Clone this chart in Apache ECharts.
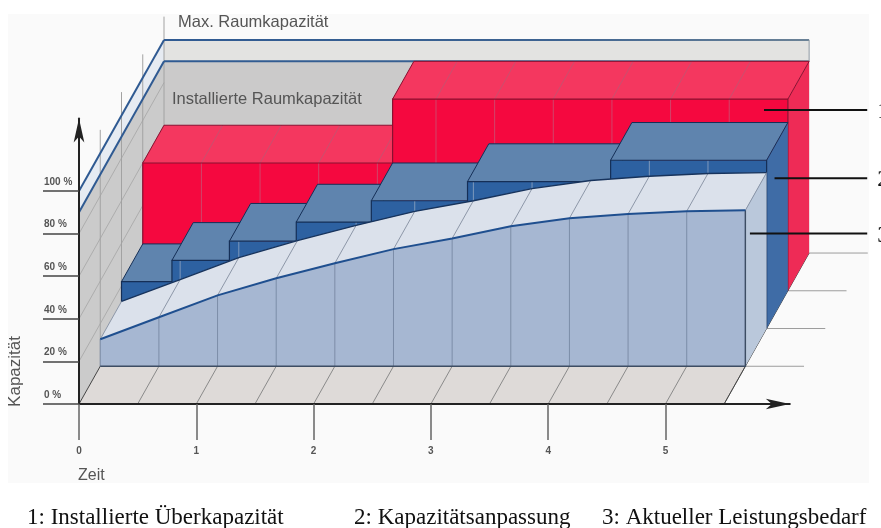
<!DOCTYPE html>
<html>
<head>
<meta charset="utf-8">
<title>Kapazität</title>
<script src="https://cdn.jsdelivr.net/npm/echarts@6/dist/echarts.min.js"></script>
<style>
  html, body { margin: 0; padding: 0; background: #fff; }
  #chart { width: 881px; height: 528px; }
</style>
</head>
<body>
<div id="chart"></div>
<script>
const timeTicks = [0, 1, 2, 3, 4, 5];
const capacityTicks = [0, 20, 40, 60, 80, 100];
const wallLines = [20, 40, 60, 80];
const halfSteps = [0, 0.5, 1, 1.5, 2, 2.5, 3, 3.5, 4, 4.5, 5, 5.5];
const depthPlanes = [1, 2, 3, 4];

const timeEnd = 5.5;
const maxCapacity = 100;
const installedCapacity = 90;
const depthLineTop = 111;

// 1: installierte Kapazitaet (Stufen)
const installedFrom = [0, 2.13];
const installedTo = [2.13, 5.5];
const installedLevel = [60, 90];

// 2: Kapazitaetsanpassung (Stufen)
const adaptFrom = [0, 0.43, 0.92, 1.49, 2.13, 2.95, 4.17];
const adaptTo = [0.43, 0.92, 1.49, 2.13, 2.95, 4.17, 5.5];
const adaptLevel = [22, 32, 41, 50, 60, 69, 79];

// 3: aktueller Leistungsbedarf
const demandValues = [12.7, 23, 33.3, 41.3, 48.4, 55, 60, 65.7, 69.5, 71.5, 72.8, 73.2];

const leaderNames = ['1', '2', '3'];
const leaderFrom = [5.84, 5.93, 5.72];
const leaderLevel = [138, 106, 80];
const leaderTo = 6.72;

// schraege Projektion: eine Tiefenebene in Achseneinheiten
const depthX = 0.1812;
const depthV = 17.72;

function pt(api, x, v, d) {
  return api.coord([x + d * depthX, v + d * depthV]);
}
function poly(pts, fill, stroke, w) {
  return { type: 'polygon', shape: { points: pts }, style: { fill: fill, stroke: stroke || 'none', lineWidth: w || 0 } };
}
function seg(pts, stroke, w) {
  return { type: 'polyline', shape: { points: pts }, style: { fill: 'none', stroke: stroke, lineWidth: w } };
}

function renderRoom(params, api) {
  const c = [];
  const p = (x, v, d) => pt(api, x, v, d);
  // Boden
  c.push(poly([p(0, 0, 0), p(timeEnd, 0, 0), p(timeEnd, 0, 4), p(0, 0, 4)], '#dedad8'));
  halfSteps.slice(1).forEach(x => c.push(seg([p(x, 0, 0), p(x, 0, 1)], '#8a8a8a', 1)));
  // Waende
  c.push(poly([p(0, 0, 0), p(0, 0, 4), p(0, installedCapacity, 4), p(0, installedCapacity, 0)], '#cbcbcb'));
  c.push(poly([p(0, installedCapacity, 0), p(0, installedCapacity, 4), p(0, maxCapacity, 4), p(0, maxCapacity, 0)], '#e6ebf2'));
  c.push(poly([p(0, 0, 4), p(timeEnd, 0, 4), p(timeEnd, installedCapacity, 4), p(0, installedCapacity, 4)], '#cbcaca'));
  c.push(poly([p(0, installedCapacity, 4), p(timeEnd, installedCapacity, 4), p(timeEnd, maxCapacity, 4), p(0, maxCapacity, 4)], '#e3e3e1'));
  wallLines.forEach(v => c.push(seg([p(0, v, 0), p(0, v, 4)], '#adadad', 1)));
  depthPlanes.forEach(d => {
    c.push(seg([p(0, 0, d), p(0, depthLineTop, d)], '#a2a2a2', 1));
    c.push(seg([p(timeEnd, 0, d), p(timeEnd + 0.5, 0, d)], '#9c9c9c', 1));
  });
  c.push(seg([p(0, 0, 0), p(0, 0, 2)], '#444', 1));
  c.push(seg([p(timeEnd, 0, 0), p(timeEnd, 0, 4)], '#444', 1));
  // Linien Max. und Installierte Raumkapazitaet
  const fade = new echarts.graphic.LinearGradient(0, 0, 1, 0, [
    { offset: 0, color: '#2f5a92' }, { offset: 0.6, color: '#3d6391' }, { offset: 1, color: '#6b8296' }
  ]);
  [maxCapacity, installedCapacity].forEach(v => {
    c.push(seg([p(0, v, 0), p(0, v, 4)], '#2f5a92', 2));
    c.push(seg([p(0, v, 4), p(timeEnd, v, 4)], fade, 2));
  });
  c.push(seg([p(timeEnd, maxCapacity, 4), p(timeEnd, installedCapacity, 4)], '#8f9aa3', 1));
  return { type: 'group', children: c };
}

function renderBox(cols, depth) {
  return function (params, api) {
    const x0 = api.value(0), x1 = api.value(1), v = api.value(2);
    const p = (x, val, d) => pt(api, x, val, d);
    const c = [];
    c.push(poly([p(x0, 0, depth), p(x1, 0, depth), p(x1, v, depth), p(x0, v, depth)], cols.front));
    c.push(poly([p(x1, 0, depth), p(x1, 0, depth + 1), p(x1, v, depth + 1), p(x1, v, depth)], cols.side));
    c.push(poly([p(x0, v, depth), p(x1, v, depth), p(x1, v, depth + 1), p(x0, v, depth + 1)], cols.top));
    halfSteps.forEach(x => {
      if (x > x0 + 0.02 && x < x1 - 0.02) {
        c.push(seg([p(x, 0, depth), p(x, v, depth)], cols.grid, 1));
        if (cols.topGrid) c.push(seg([p(x, v, depth), p(x, v, depth + 1)], cols.topGrid, 1));
      }
    });
    c.push(seg([p(x0, 0, depth), p(x0, v, depth), p(x1, v, depth), p(x1, 0, depth)], cols.edge, 1.2));
    c.push(seg([p(x0, v, depth), p(x0, v, depth + 1), p(x1, v, depth + 1), p(x1, v, depth)], cols.edge, 1));
    return { type: 'group', children: c };
  };
}

function renderDemand(params, api) {
  const p = (x, val, d) => pt(api, x, val, d);
  const front = halfSteps.map((x, i) => p(x, demandValues[i], 1));
  const back = halfSteps.map((x, i) => p(x, demandValues[i], 2));
  const last = demandValues[demandValues.length - 1];
  const c = [];
  c.push(poly([p(0, 0, 1)].concat(front, [p(timeEnd, 0, 1)]), '#a6b7d2'));
  c.push(poly(front.concat(back.slice().reverse()), '#dbe1eb'));
  c.push(poly([p(timeEnd, 0, 1), p(timeEnd, 0, 2), p(timeEnd, last, 2), p(timeEnd, last, 1)], '#bac8db'));
  halfSteps.forEach((x, i) => {
    c.push(seg([p(x, 0, 1), front[i]], '#7c8da8', 1));
    c.push(seg([front[i], back[i]], '#8d97a8', 1));
  });
  c.push(seg([p(0, 0, 1), p(timeEnd, 0, 1), p(timeEnd, last, 1)], '#3d4d63', 1.4));
  c.push(seg(front, '#1f4f8f', 2));
  c.push(seg(back, '#17335c', 1.4));
  return { type: 'group', children: c };
}

function renderLeader(params, api) {
  const i = params.dataIndex;
  const a = api.coord([leaderFrom[i], leaderLevel[i]]);
  const b = api.coord([leaderTo, leaderLevel[i]]);
  return {
    type: 'group',
    children: [
      seg([a, b], '#111', 2),
      { type: 'text', style: { text: leaderNames[i], x: b[0] + 10, y: b[1] + 2, fill: '#111', font: '23px "Liberation Serif"', textVerticalAlign: 'middle' } }
    ]
  };
}

function customSeries(name, data, renderItem, z) {
  return { name: name, type: 'custom', data: data, renderItem: renderItem, clip: false, silent: true, z: z };
}

const installedData = installedFrom.map((x, i) => [x, installedTo[i], installedLevel[i]]);
const adaptData = adaptFrom.map((x, i) => [x, adaptTo[i], adaptLevel[i]]);

const redColors = { front: '#f5083f', side: '#ee2b56', top: '#f4375f', grid: '#d0456a', topGrid: '#c9506e', edge: '#8a1030' };
const blueColors = { front: '#2d61a1', side: '#3f6ca6', top: '#5f84ae', grid: '#7d98bb', edge: '#152f57' };

function label(text, x, y, size, extra) {
  return Object.assign({
    type: 'text', left: x, top: y, z: 100,
    style: { text: text, fill: '#555', font: size + 'px "Liberation Sans"' }
  }, extra || {});
}
function caption(text, x) {
  return { type: 'text', left: x, top: 506, z: 100, style: { text: text, fill: '#111', font: '23px "Liberation Serif"' } };
}

const chart = echarts.init(document.getElementById('chart'), null, { renderer: 'canvas' });
chart.setOption({
  animation: false,
  backgroundColor: '#ffffff',
  grid: { left: 79, top: 118.6, width: 710.8, height: 285.4 },
  xAxis: {
    type: 'value', min: 0, max: 6.06, z: 5,
    splitLine: { show: false },
    axisLine: { onZero: false, symbol: ['none', 'arrow'], symbolSize: [8, 24], lineStyle: { color: '#222', width: 2 } },
    axisTick: { show: true, length: 36, customValues: timeTicks, lineStyle: { color: '#666', width: 1.5 } },
    axisLabel: { margin: 42, customValues: timeTicks, color: '#555', fontSize: 10, fontWeight: 'bold', fontFamily: 'Liberation Sans' }
  },
  yAxis: {
    type: 'value', min: 0, max: 134, z: 5,
    splitLine: { show: false },
    axisLine: { onZero: false, symbol: ['none', 'arrow'], symbolSize: [8, 24], lineStyle: { color: '#222', width: 2 } },
    axisTick: { show: true, length: 36, customValues: capacityTicks, lineStyle: { color: '#444', width: 1.5 } },
    axisLabel: {
      margin: 35, customValues: capacityTicks, align: 'left', verticalAlign: 'bottom', padding: [0, 0, 4, 0],
      formatter: '{value} %', color: '#555', fontSize: 10, fontWeight: 'bold', fontFamily: 'Liberation Sans'
    }
  },
  series: [
    customSeries('Raum', [[0]], renderRoom, 2),
    customSeries('Installierte Kapazität', installedData, renderBox(redColors, 3), 3),
    customSeries('Kapazitätsanpassung', adaptData, renderBox(blueColors, 2), 4),
    customSeries('Aktueller Leistungsbedarf', [[0]], renderDemand, 6),
    customSeries('Hinweise', leaderNames.map((n, i) => [leaderFrom[i], leaderLevel[i]]), renderLeader, 7)
  ],
  graphic: [
    { type: 'rect', left: 8, top: 14, z: -10, shape: { width: 861, height: 469 }, style: { fill: '#fafafa' } },
    label('Max. Raumkapazität', 178, 14, 16.5),
    label('Installierte Raumkapazität', 172, 91, 16.5),
    label('Zeit', 78, 468, 16),
    label('Kapazität', 7, 336, 17, { rotation: Math.PI / 2 }),
    caption('1: Installierte Überkapazität', 27),
    caption('2: Kapazitätsanpassung', 354),
    caption('3: Aktueller Leistungsbedarf', 602)
  ]
});
</script>
</body>
</html>
